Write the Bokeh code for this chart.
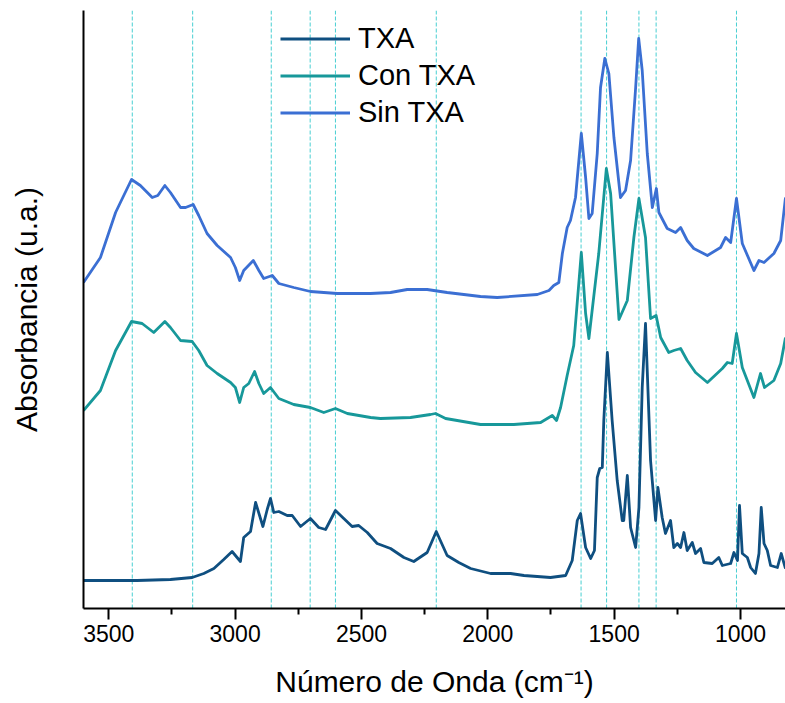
from bokeh.plotting import figure
from bokeh.models import Range1d, FixedTicker, Span, Legend, LegendItem
from bokeh.embed import file_html
from bokeh.resources import INLINE

# FTIR spectra, absorbance in arbitrary units (already offset for stacking)
txa_wn = [3600, 3388, 3256, 3170, 3124, 3084, 3045, 3012, 2979, 2966, 2939, 2919, 2890, 2873, 2860,
          2847, 2827, 2794, 2774, 2741, 2702, 2669, 2642, 2603, 2570, 2537, 2511, 2477, 2438, 2385,
          2332, 2293, 2240, 2204, 2161, 2115, 2068, 1989, 1910, 1857, 1752, 1692, 1666, 1646, 1633,
          1613, 1593, 1578, 1567, 1557, 1547, 1541, 1527, 1508, 1488, 1468, 1462, 1448, 1435, 1415,
          1402, 1389, 1376, 1356, 1336, 1327, 1310, 1297, 1277, 1264, 1250, 1237, 1224, 1211, 1191,
          1178, 1158, 1145, 1112, 1086, 1072, 1039, 1026, 1012, 1004, 993, 973, 960, 941, 927,
          918, 907, 894, 881, 854, 839, 822]
txa_abs = [0.28, 0.28, 0.29, 0.31, 0.35, 0.40, 0.49, 0.57, 0.47, 0.71, 0.77, 1.06, 0.82, 0.99, 1.10,
           0.96, 0.97, 0.93, 0.93, 0.82, 0.90, 0.81, 0.79, 0.98, 0.90, 0.82, 0.83, 0.76, 0.65, 0.60,
           0.51, 0.47, 0.56, 0.77, 0.53, 0.46, 0.40, 0.35, 0.35, 0.33, 0.31, 0.33, 0.48, 0.88, 0.95,
           0.61, 0.50, 0.58, 1.31, 1.40, 1.41, 1.88, 2.56, 1.88, 1.28, 0.88, 0.88, 1.33, 0.81, 0.61,
           1.01, 2.21, 2.85, 1.48, 0.88, 1.21, 0.91, 0.75, 0.88, 0.61, 0.65, 0.61, 0.76, 0.58, 0.66,
           0.55, 0.60, 0.46, 0.45, 0.51, 0.43, 0.45, 0.56, 0.48, 1.03, 0.55, 0.51, 0.41, 0.35, 0.55,
           1.01, 0.65, 0.58, 0.43, 0.41, 0.55, 0.40]

con_wn = [3600, 3533, 3473, 3410, 3368, 3322, 3278, 3256, 3216, 3170, 3144, 3111, 3071, 3018, 2999,
          2982, 2966, 2946, 2923, 2906, 2887, 2860, 2827, 2768, 2702, 2649, 2603, 2556, 2464, 2425,
          2306, 2227, 2207, 2167, 2029, 1897, 1791, 1745, 1728, 1712, 1686, 1660, 1640, 1630, 1613,
          1600, 1561, 1531, 1514, 1481, 1448, 1422, 1402, 1376, 1356, 1334, 1316, 1284, 1264, 1237,
          1211, 1178, 1131, 1072, 1052, 1033, 1016, 993, 947, 921, 905, 868, 841, 822]
con_abs = [1.98, 2.18, 2.58, 2.87, 2.85, 2.76, 2.87, 2.81, 2.68, 2.67, 2.58, 2.43, 2.35, 2.26, 2.21,
           2.06, 2.21, 2.25, 2.37, 2.25, 2.15, 2.21, 2.10, 2.04, 2.01, 1.96, 2.00, 1.95, 1.91, 1.90,
           1.91, 1.94, 1.95, 1.90, 1.84, 1.84, 1.86, 1.93, 1.88, 2.01, 2.33, 2.63, 3.25, 3.56, 2.95,
           2.70, 3.55, 4.40, 4.15, 2.89, 3.08, 3.71, 4.10, 3.71, 2.90, 2.93, 2.71, 2.56, 2.58, 2.60,
           2.48, 2.36, 2.26, 2.40, 2.46, 2.45, 2.75, 2.41, 2.11, 2.35, 2.21, 2.28, 2.45, 2.71]

sin_wn = [3600, 3533, 3473, 3454, 3410, 3375, 3328, 3306, 3278, 3256, 3216, 3196, 3166, 3144, 3111,
          3071, 3018, 2999, 2982, 2966, 2928, 2906, 2887, 2853, 2827, 2768, 2702, 2596, 2464, 2385,
          2319, 2240, 2161, 2029, 1963, 1804, 1758, 1739, 1719, 1705, 1686, 1673, 1653, 1630, 1613,
          1600, 1587, 1567, 1554, 1537, 1521, 1501, 1475, 1455, 1435, 1415, 1403, 1389, 1369, 1349,
          1333, 1323, 1290, 1257, 1237, 1211, 1185, 1131, 1079, 1059, 1039, 1016, 993, 947, 927,
          907, 868, 841, 822]
sin_abs = [3.26, 3.51, 3.96, 4.06, 4.29, 4.23, 4.11, 4.13, 4.23, 4.16, 4.01, 4.01, 4.04, 3.93, 3.75,
           3.63, 3.51, 3.41, 3.28, 3.38, 3.48, 3.38, 3.30, 3.33, 3.25, 3.21, 3.17, 3.15, 3.15, 3.16,
           3.19, 3.19, 3.16, 3.12, 3.11, 3.14, 3.18, 3.23, 3.26, 3.55, 3.81, 3.88, 4.11, 4.75, 4.31,
           3.90, 3.95, 4.55, 5.21, 5.50, 5.35, 4.71, 4.11, 4.18, 4.48, 5.21, 5.70, 5.38, 4.55, 4.01,
           4.20, 3.96, 3.80, 3.76, 3.81, 3.68, 3.60, 3.53, 3.61, 3.71, 3.66, 4.10, 3.65, 3.38, 3.48,
           3.46, 3.55, 3.68, 4.11]

# characteristic band positions (cm-1)
band_positions = [3407, 3168, 2857, 2703, 2603, 2204, 1631, 1530, 1402, 1334, 1016]

major_ticks = [3500, 3000, 2500, 2000, 1500, 1000]
minor_ticks = [3250, 2750, 2250, 1750, 1250]

series_names = ["TXA", "Con TXA", "Sin TXA"]
series_colors = ["#0f4f80", "#17989a", "#3b6fd3"]

FONT = "Liberation Sans"

p = figure(width=785, height=703, output_backend="svg", toolbar_location=None,
           x_range=Range1d(3600, 822), y_range=Range1d(0, 5.98),
           min_border_left=83, min_border_right=0, min_border_top=10, min_border_bottom=95)
p.outline_line_color = None
p.grid.visible = False
p.background_fill_color = "white"
p.border_fill_color = "white"

for pos in band_positions:
    p.add_layout(Span(location=pos, dimension="height", line_color="#48cfd2",
                      line_width=1, line_dash="4 2", level="underlay"))

renderers = []
for wn, ab, color in zip([txa_wn, con_wn, sin_wn], [txa_abs, con_abs, sin_abs], series_colors):
    r = p.line(wn, ab, line_color=color, line_width=2.8, line_join="round")
    renderers.append(r)

xa = p.xaxis[0]
xa.ticker = FixedTicker(ticks=major_ticks, minor_ticks=minor_ticks)
xa.axis_line_width = 2
xa.major_tick_line_width = 2
xa.minor_tick_line_width = 2
xa.major_tick_in = 0
xa.major_tick_out = 11
xa.minor_tick_in = 0
xa.minor_tick_out = 6
xa.major_label_standoff = 5
xa.major_label_text_font = FONT
xa.major_label_text_font_size = "23px"
xa.major_label_text_color = "black"
xa.axis_label = "Número de Onda (cm⁻¹)"
xa.axis_label_text_font = FONT
xa.axis_label_text_font_size = "30px"
xa.axis_label_text_font_style = "normal"
xa.axis_label_text_color = "black"
xa.axis_label_standoff = 20

ya = p.yaxis[0]
ya.ticker = FixedTicker(ticks=[])
ya.axis_line_width = 2
ya.major_tick_out = 0
ya.major_tick_in = 0
ya.minor_tick_out = 0
ya.minor_tick_in = 0
ya.axis_label = "Absorbancia (u.a.)"
ya.axis_label_text_font = FONT
ya.axis_label_text_font_size = "30px"
ya.axis_label_text_font_style = "normal"
ya.axis_label_text_color = "black"
ya.axis_label_standoff = 41

legend = Legend(items=[LegendItem(label=n, renderers=[r]) for n, r in zip(series_names, renderers)],
                location=(197, 479), orientation="vertical",
                glyph_width=70, glyph_height=33, label_standoff=8, spacing=4,
                padding=0, margin=0, border_line_color=None, background_fill_alpha=0,
                label_text_font=FONT, label_text_font_size="29px", label_text_color="black")
p.add_layout(legend, "center")

open("out.html", "w").write(file_html(p, INLINE))
